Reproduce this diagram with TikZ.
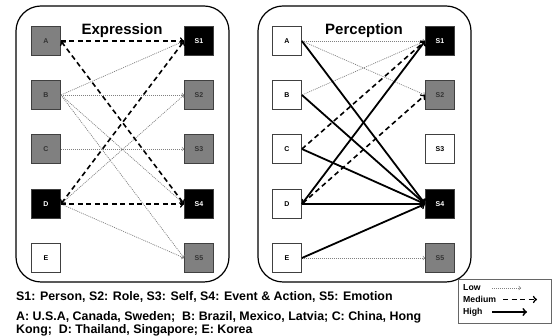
\documentclass[tikz,border=0pt]{standalone}
\usepackage{fontspec}
\setmainfont{Liberation Sans}
\usetikzlibrary{positioning}

\tikzset{
  box/.style={draw=black!75, line width=0.8pt, minimum width=29pt, minimum height=29pt, inner sep=0pt, font=\fontsize{7}{8}\selectfont\bfseries},
  gbox/.style={box, fill=black!50, text=black!80},
  kbox/.style={box, fill=black, text=white},
  wbox/.style={box, fill=white},
  low/.style={->, gray, line width=0.7pt, dash pattern=on 1pt off 1pt},
  med/.style={->, line width=1.6pt, dash pattern=on 5pt off 3.5pt},
  high/.style={->, line width=1.8pt},
  panel/.style={draw, line width=1.2pt, rounded corners=25pt},
  title/.style={font=\fontsize{15}{15}\selectfont\bfseries},
  note/.style={anchor=west, inner sep=0pt, font=\fontsize{12.4}{13}\selectfont\bfseries},
  key/.style={anchor=west, inner sep=0pt, font=\fontsize{8.7}{9}\selectfont\bfseries}
}

\begin{document}
\begin{tikzpicture}[x=1pt, y=-1pt, >=to]
\useasboundingbox (0,0) rectangle (555,336);

% panels
\draw[panel] (16,6) rectangle (229,282);
\draw[panel] (258,6) rectangle (471,282);
\node[title] (etitle) at (122,31) {Expression};
\node[title] (ptitle) at (364,31) {Perception};

% expression boxes
\foreach \n/\y/\s in {A/41/gbox, B/95/gbox, C/149/gbox, D/204/kbox, E/258/wbox}
  \node[\s] (e\n) at (46,\y) {\n};
\foreach \n/\y/\s in {1/41/kbox, 2/95/gbox, 3/149/gbox, 4/204/kbox, 5/258/gbox}
  \node[\s] (eS\n) at (199,\y) {S\n};

% perception boxes
\foreach \n/\y in {A/41, B/95, C/149, D/204, E/258}
  \node[wbox] (p\n) at (287,\y) {\n};
\foreach \n/\y/\s in {1/41/kbox, 2/95/gbox, 3/149/wbox, 4/204/kbox, 5/258/gbox}
  \node[\s] (pS\n) at (440,\y) {S\n};

% expression links
\foreach \a/\b in {B/1, B/2, B/4, B/5, C/3, D/2, D/5}
  \draw[low] (e\a.east) -- (eS\b.west);
\draw[med] (eA.east) -- (eS1.west);
\draw[med] (eD.east) -- (eS4.west);
\draw[med,<->] (eA.east) -- (eS4.west);
\draw[med,<->] (eD.east) -- (eS1.west);

% perception links
\foreach \a/\b in {A/1, A/2, B/1, E/5}
  \draw[low] (p\a.east) -- (pS\b.west);
\draw[med] (pC.east) -- (pS1.west);
\draw[med,<->] (pD.east) -- (pS2.west);
\foreach \a/\b in {A/4, B/4, C/4, D/1, D/4, E/4}
  \draw[high] (p\a.east) -- (pS\b.west);

% notes
\node[note] (n1) at (16,297) {S1: Person, S2: Role, S3: Self, S4: Event \& Action, S5: Emotion};
\node[note] (n2) at (16,317) {A: U.S.A, Canada, Sweden;\ \ B: Brazil, Mexico, Latvia; C: China, Hong};
\node[note] (n3) at (16,330) {Kong;\ \ D: Thailand, Singapore; E: Korea};

% legend
\node[draw=black!60, line width=0.8pt, minimum width=93pt, minimum height=44pt, inner sep=0pt] (legend) at (504.5,301) {};
\node[key] (klow) at (463,288) {Low};
\node[key] (kmed) at (463,299.5) {Medium};
\node[key] (khigh) at (463,312) {High};
\coordinate (lowA) at (492,288);   \coordinate (lowB) at (521,288);
\coordinate (medA) at (503,299.5); \coordinate (medB) at (537,299.5);
\coordinate (highA) at (492,312);  \coordinate (highB) at (527,312);
\draw[low] (lowA) -- (lowB);
\draw[med] (medA) -- (medB);
\draw[high] (highA) -- (highB);
\end{tikzpicture}
\end{document}
